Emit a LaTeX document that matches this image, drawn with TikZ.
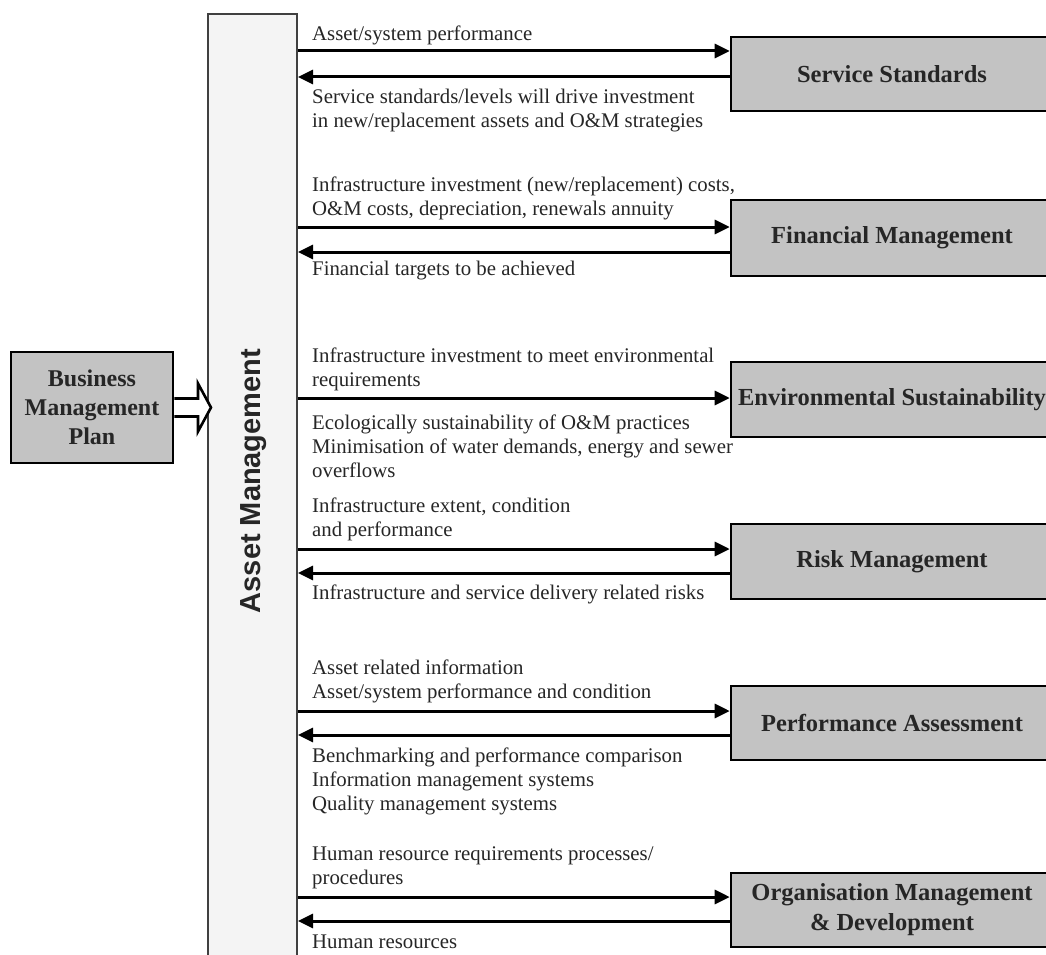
\documentclass[tikz,border=0pt]{standalone}
\usepackage{fontspec}
\setmainfont{Liberation Serif}
\setsansfont{Liberation Sans}
\usetikzlibrary{arrows.meta,calc}
\definecolor{boxgrey}{HTML}{C3C3C3}
\definecolor{colgrey}{HTML}{F4F4F4}
\definecolor{inktext}{HTML}{262626}
\begin{document}
\begin{tikzpicture}[x=1pt,y=-1pt,
  sidebox/.style={draw=black, line width=2.6pt, fill=boxgrey, minimum width=322pt, inner sep=0pt,
                  align=center, font=\fontsize{24.5}{30}\selectfont\bfseries, text=inktext},
  flow/.style={line width=3pt, -{Triangle[length=15pt,width=14pt]}},
  lbl/.style={anchor=west, inner sep=0pt, align=left, font=\fontsize{20.8}{24}\selectfont, text=inktext},
]
\useasboundingbox (0,0) rectangle (1046,955);
\clip (0,0) rectangle (1046,955);
\fill[white] (0,0) rectangle (1046,955);

% central column
\node[draw=black!75, line width=2pt, fill=colgrey, minimum width=89pt, minimum height=986pt, inner sep=0pt] (am) at (252.5,507) {};
\node[rotate=90, inner sep=0pt, font=\sffamily\bfseries\fontsize{29}{32}\selectfont, text=inktext] (amT) at (254,481) {Asset Management};

% business plan
\node[draw=black, line width=2.6pt, fill=boxgrey, minimum width=162pt, minimum height=111pt, inner sep=0pt,
      align=center, font=\fontsize{24}{29}\selectfont\bfseries, text=inktext] (bmp) at (92,407.5) {Business\\Management\\Plan};
% hollow block arrow from the plan into the column
\coordinate (bpA) at (am.west |- bmp.east);
\draw[line width=2.6pt, fill=white, line join=miter]
  ($(bmp.east)+(0,-9)$) -- ($(bpA)+(-9,-9)$) -- ($(bpA)+(-9,-24)$) -- ($(bpA)+(4,0)$)
  -- ($(bpA)+(-9,24)$) -- ($(bpA)+(-9,9)$) -- ($(bmp.east)+(0,9)$);

% side boxes
\node[sidebox, minimum height=74pt] (ss) at (892,74) {Service Standards};
\node[sidebox, minimum height=76pt] (fm) at (892,238) {Financial Management};
\node[sidebox, minimum height=75pt] (es) at (892,399.5) {Environmental Sustainability};
\node[sidebox, minimum height=75pt] (rm) at (892,561.5) {Risk Management};
\node[sidebox, minimum height=74pt] (pa) at (892,723) {Performance Assessment};
\node[sidebox, minimum height=74pt] (om) at (892,910) {Organisation Management\\\& Development};

% flows
\draw[flow] (am.east |- 0,51) -- (ss.west |- 0,51);
\draw[flow] (ss.west |- 0,77) -- (am.east |- 0,77);
\draw[flow] (am.east |- 0,227) -- (fm.west |- 0,227);
\draw[flow] (fm.west |- 0,252) -- (am.east |- 0,252);
\draw[flow] (am.east |- 0,398) -- (es.west |- 0,398);
\draw[flow] (am.east |- 0,549) -- (rm.west |- 0,549);
\draw[flow] (rm.west |- 0,573) -- (am.east |- 0,573);
\draw[flow] (am.east |- 0,711) -- (pa.west |- 0,711);
\draw[flow] (pa.west |- 0,735) -- (am.east |- 0,735);
\draw[flow] (am.east |- 0,897) -- (om.west |- 0,897);
\draw[flow] (om.west |- 0,921) -- (am.east |- 0,921);

% flow labels
\node[lbl] (l1) at (312,35) {Asset/system performance};
\node[lbl] (l2) at (312,111) {Service standards/levels will drive investment\\in new/replacement assets and O\&M strategies};
\node[lbl] (l3) at (312,198) {Infrastructure investment (new/replacement) costs,\\O\&M costs, depreciation, renewals annuity};
\node[lbl] (l4) at (312,271) {Financial targets to be achieved};
\node[lbl] (l5) at (312,369) {Infrastructure investment to meet environmental\\requirements};
\node[lbl] (l6) at (312,446) {Ecologically sustainability of O\&M practices\\Minimisation of water demands, energy and sewer\\overflows};
\node[lbl] (l7) at (312,519.5) {Infrastructure extent, condition\\and performance};
\node[lbl] (l8) at (312,594) {Infrastructure and service delivery related risks};
\node[lbl] (l9) at (312,681) {Asset related information\\Asset/system performance and condition};
\node[lbl] (l10) at (312,781) {Benchmarking and performance comparison\\Information management systems\\Quality management systems};
\node[lbl] (l11) at (312,868) {Human resource requirements processes/\\procedures};
\node[lbl] (l12) at (312,942) {Human resources};
\end{tikzpicture}
\end{document}
